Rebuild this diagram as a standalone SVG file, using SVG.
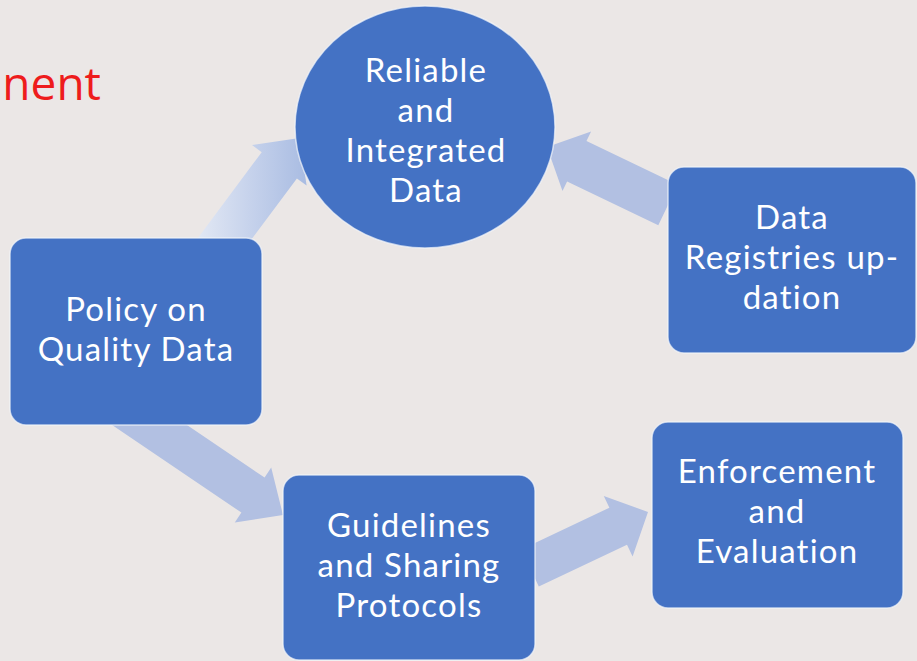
<svg xmlns="http://www.w3.org/2000/svg" width="917" height="661" viewBox="0 0 917 661">
  <defs>
    <linearGradient id="g1" x1="0" y1="0" x2="1" y2="0">
      <stop offset="0" stop-color="#e6ebf5"/>
      <stop offset="0.5" stop-color="#c7d3ec"/>
      <stop offset="1" stop-color="#a9bce2"/>
    </linearGradient>
    <style>
      .bg { fill: #ebe7e6; }
      .arrow { fill: #b2c0e2; }
      .node { fill: #4472c4; stroke: #f4f6fb; stroke-width: 1.5; stroke-opacity: 0.7; }
      .lbl { font-family: Lato, "Open Sans", "Liberation Sans", sans-serif; font-size: 33px; letter-spacing: 1.2px; fill: #ffffff; text-anchor: middle; }
      .title { font-family: "Open Sans", "Liberation Sans", sans-serif; font-size: 46px; fill: #ee1c1c; text-anchor: end; }
    </style>
  </defs>
  <rect class="bg" x="0" y="0" width="917" height="661"/>
  <text class="title" x="101" y="100">nent</text>

  <g id="connectors">
    <polygon fill="url(#g1)" points="190.1,248.4 261.7,152.2 252,145 299.6,138 306.6,185.6 296.9,178.4 225.3,274.6"/>
    <polygon class="arrow" points="677.7,184.7 586.5,141.0 591.1,131.5 547,147 562.5,191.1 567.1,181.6 658.3,225.3"/>
    <polygon class="arrow" points="131.6,387.5 264.6,477.6 271.2,467.6 283,515 234.8,522.6 241.4,512.6 108.4,422.5"/>
    <polygon class="arrow" points="521.2,549.5 609.4,507.7 603.8,495.9 648,512 632.6,556.5 627.0,544.7 538.8,586.5"/>
  </g>

  <g id="node-reliable">
    <ellipse class="node" cx="425" cy="127" rx="130" ry="121"/>
    <text class="lbl" x="426" y="82">Reliable</text>
    <text class="lbl" x="426" y="122">and</text>
    <text class="lbl" x="426" y="162">Integrated</text>
    <text class="lbl" x="426" y="202">Data</text>
  </g>

  <g id="node-policy">
    <rect class="node" x="10" y="238" width="252" height="187" rx="16"/>
    <text class="lbl" x="136" y="321">Policy on</text>
    <text class="lbl" x="136" y="361">Quality Data</text>
  </g>

  <g id="node-registries">
    <rect class="node" x="668" y="167" width="248" height="186" rx="16"/>
    <text class="lbl" x="792" y="229">Data</text>
    <text class="lbl" x="792" y="269">Registries up-</text>
    <text class="lbl" x="792" y="309">dation</text>
  </g>

  <g id="node-guidelines">
    <rect class="node" x="283" y="475" width="252" height="185" rx="16"/>
    <text class="lbl" x="409" y="537">Guidelines</text>
    <text class="lbl" x="409" y="577">and Sharing</text>
    <text class="lbl" x="409" y="617">Protocols</text>
  </g>

  <g id="node-enforcement">
    <rect class="node" x="652" y="422" width="251" height="186" rx="16"/>
    <text class="lbl" x="777" y="483">Enforcement</text>
    <text class="lbl" x="777" y="523">and</text>
    <text class="lbl" x="777" y="563">Evaluation</text>
  </g>
</svg>
